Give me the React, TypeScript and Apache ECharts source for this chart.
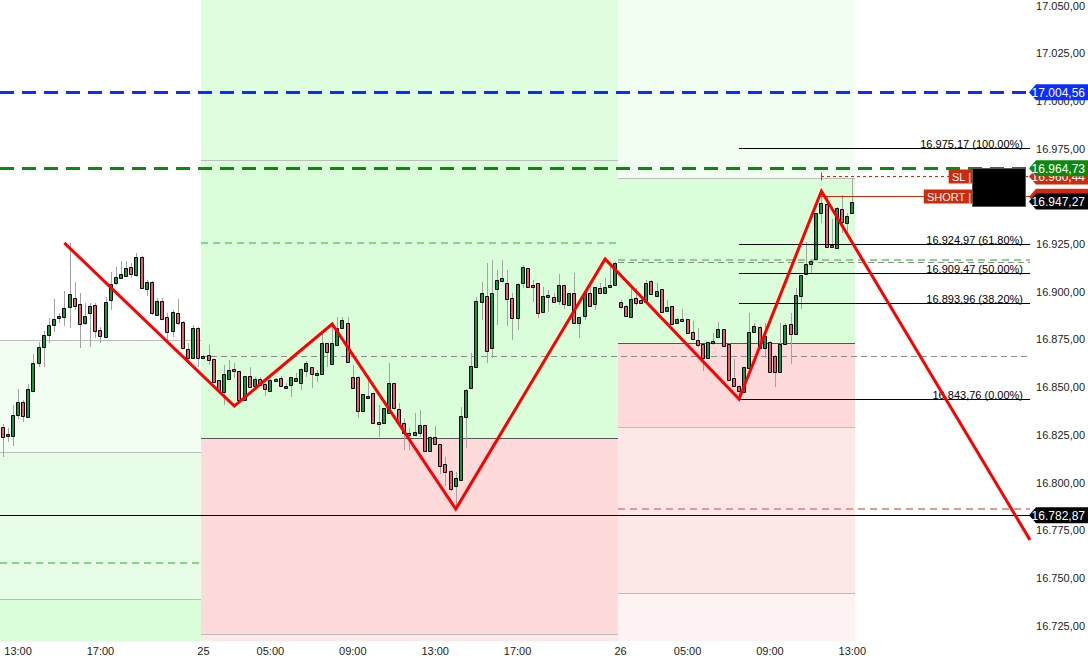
import React, { useEffect, useRef } from "react";
import * as echarts from "echarts";

// ---------- axis ranges / ticks ----------
const Y_MIN = 16716.94;
const Y_MAX = 17052.94;
const yTickValues = [16725, 16750, 16775, 16800, 16825, 16850, 16875, 16900, 16925, 16950, 16975, 17000, 17025, 17050];
const xTickTimes = ["05:00", "09:00", "13:00", "17:00"];

// trading sessions (15 minute bars)
const sessions = [
  { day: "24", open: "12:15", bars: 39, showDay: false },
  { day: "25", open: "01:45", bars: 81, showDay: true },
  { day: "26", open: "01:45", bars: 80, showDay: true },
];

// ---------- candles: [open, close, low, high] ----------
const day24Candles = [
  [16829.3, 16823.9, 16813.5, 16830.7], [16824.6, 16825.6, 16821.2, 16828.6], [16824.5, 16835.4, 16819.1, 16840.6],
  [16835.4, 16842.4, 16833.3, 16849.0], [16842.2, 16835.1, 16831.9, 16843.3], [16834.5, 16848.9, 16833.8, 16851.6],
  [16848.1, 16862.5, 16848.0, 16867.4], [16862.5, 16870.9, 16860.7, 16873.8], [16870.9, 16877.2, 16860.7, 16879.6],
  [16877.2, 16882.4, 16873.3, 16886.3], [16882.4, 16885.6, 16879.1, 16896.0], [16886.1, 16887.3, 16883.6, 16888.9],
  [16886.9, 16891.3, 16882.0, 16900.6], [16892.0, 16898.8, 16881.2, 16925.4], [16896.6, 16892.7, 16890.4, 16905.0],
  [16893.6, 16883.0, 16870.4, 16899.4], [16883.5, 16887.3, 16882.6, 16894.0], [16888.7, 16892.5, 16870.9, 16894.0],
  [16893.1, 16879.4, 16875.6, 16894.0], [16880.0, 16877.0, 16873.0, 16881.6], [16876.4, 16894.6, 16876.3, 16897.4],
  [16895.5, 16904.1, 16890.4, 16910.5], [16904.4, 16907.9, 16903.5, 16912.8], [16907.0, 16909.3, 16906.7, 16916.3],
  [16908.3, 16912.3, 16907.7, 16916.1], [16913.0, 16909.2, 16907.0, 16914.9], [16908.8, 16918.1, 16907.9, 16920.5],
  [16918.1, 16901.8, 16901.4, 16918.7], [16901.3, 16905.0, 16897.8, 16906.2], [16905.0, 16888.7, 16887.8, 16905.6],
  [16887.8, 16895.3, 16887.3, 16896.6], [16895.3, 16885.6, 16885.2, 16896.6], [16886.6, 16879.1, 16873.0, 16888.7],
  [16879.3, 16889.4, 16876.4, 16890.4], [16888.7, 16883.5, 16882.6, 16896.0], [16884.0, 16870.4, 16869.8, 16884.7],
  [16870.0, 16865.1, 16862.5, 16873.0], [16865.1, 16880.8, 16864.8, 16882.6], [16880.8, 16865.1, 16860.7, 16881.6],
];

const day25Candles = [
  [16865.6, 16866.5, 16865.3, 16866.8], [16866.8, 16864.2, 16861.6, 16872.1], [16864.8, 16852.9, 16852.7, 16865.0],
  [16853.7, 16848.5, 16846.8, 16854.0], [16847.6, 16856.9, 16840.6, 16861.6], [16854.3, 16859.0, 16853.7, 16864.2],
  [16859.4, 16859.0, 16854.6, 16862.5], [16858.5, 16843.3, 16843.0, 16858.7], [16843.5, 16855.9, 16843.3, 16856.1],
  [16855.9, 16849.9, 16849.6, 16860.7], [16850.6, 16854.1, 16850.3, 16855.2], [16854.1, 16851.0, 16850.6, 16855.5],
  [16851.6, 16848.9, 16845.4, 16852.0], [16848.1, 16853.7, 16848.0, 16854.3], [16853.6, 16854.1, 16853.2, 16854.8],
  [16854.6, 16850.6, 16850.2, 16855.8], [16849.4, 16850.6, 16849.0, 16852.0], [16851.0, 16855.2, 16845.0, 16855.5],
  [16853.4, 16854.6, 16853.2, 16857.6], [16852.0, 16859.5, 16848.5, 16859.9], [16858.3, 16862.5, 16855.2, 16863.9],
  [16860.6, 16856.7, 16849.4, 16860.7], [16856.2, 16857.2, 16852.9, 16859.0], [16856.7, 16873.0, 16856.4, 16878.2],
  [16873.0, 16868.6, 16860.7, 16873.1], [16862.0, 16873.0, 16861.6, 16883.5], [16871.9, 16881.2, 16871.6, 16886.6],
  [16881.2, 16885.2, 16881.0, 16886.6], [16883.8, 16863.3, 16863.2, 16886.6], [16855.5, 16849.6, 16849.3, 16861.6],
  [16855.5, 16837.5, 16833.7, 16855.9], [16837.5, 16846.2, 16837.2, 16846.4], [16844.7, 16845.5, 16844.3, 16856.4],
  [16846.8, 16831.0, 16830.7, 16847.0], [16831.6, 16830.5, 16824.0, 16840.6], [16831.0, 16838.9, 16830.9, 16839.1],
  [16836.6, 16852.0, 16836.4, 16862.8], [16852.0, 16839.2, 16838.0, 16852.2], [16838.4, 16831.4, 16831.2, 16841.5],
  [16831.0, 16825.8, 16817.1, 16833.7], [16826.1, 16824.8, 16817.1, 16828.4], [16824.8, 16826.5, 16824.4, 16836.3],
  [16825.8, 16830.2, 16824.0, 16838.0], [16830.2, 16816.7, 16816.5, 16830.4], [16816.7, 16823.7, 16816.5, 16824.6],
  [16823.7, 16820.0, 16819.7, 16829.8], [16820.0, 16808.7, 16804.5, 16820.2], [16809.5, 16805.7, 16798.2, 16813.5],
  [16806.0, 16796.8, 16795.7, 16806.6], [16798.3, 16802.2, 16786.0, 16805.7], [16801.3, 16834.9, 16800.8, 16839.7],
  [16834.5, 16848.5, 16818.3, 16849.0], [16849.4, 16861.1, 16849.0, 16867.7], [16860.7, 16895.2, 16860.6, 16897.4],
  [16894.8, 16899.5, 16885.2, 16905.1], [16897.8, 16869.1, 16862.5, 16914.9], [16870.7, 16899.2, 16865.4, 16916.6],
  [16901.3, 16906.2, 16882.6, 16911.4], [16905.8, 16907.0, 16905.4, 16916.6], [16904.4, 16896.0, 16882.0, 16911.4],
  [16896.6, 16886.4, 16874.7, 16899.2], [16886.1, 16903.9, 16880.0, 16904.4], [16904.4, 16913.1, 16901.8, 16914.0],
  [16912.6, 16902.6, 16902.1, 16912.6], [16903.5, 16903.0, 16894.8, 16906.2], [16904.8, 16888.7, 16886.1, 16904.8],
  [16889.2, 16897.9, 16888.9, 16902.6], [16897.8, 16898.3, 16889.6, 16900.9], [16897.4, 16894.8, 16894.1, 16899.2],
  [16895.3, 16903.5, 16893.1, 16909.3], [16903.5, 16893.4, 16890.8, 16903.8], [16893.1, 16899.2, 16892.8, 16899.4],
  [16899.2, 16883.8, 16883.6, 16909.7], [16883.5, 16886.6, 16875.9, 16886.9], [16887.3, 16899.2, 16885.2, 16899.4],
  [16899.2, 16892.7, 16892.5, 16904.8], [16893.6, 16902.3, 16890.4, 16902.5], [16901.8, 16899.2, 16898.8, 16904.8],
  [16899.5, 16902.3, 16899.1, 16907.0], [16903.0, 16903.5, 16902.5, 16913.5], [16903.5, 16915.2, 16903.0, 16915.6],
];

const day26Candles = [
  [16894.8, 16891.9, 16891.0, 16895.7], [16892.5, 16887.4, 16886.8, 16893.1], [16886.9, 16896.0, 16886.8, 16902.0],
  [16896.6, 16894.3, 16892.5, 16902.0], [16895.7, 16894.3, 16893.8, 16896.2], [16894.8, 16904.8, 16894.6, 16906.2],
  [16905.8, 16898.7, 16898.3, 16906.2], [16897.9, 16900.6, 16897.8, 16904.8], [16901.3, 16889.6, 16889.4, 16901.4],
  [16889.9, 16891.9, 16889.7, 16895.7], [16892.5, 16883.0, 16882.9, 16892.8], [16883.5, 16885.6, 16883.1, 16886.0],
  [16885.4, 16885.8, 16885.2, 16890.8], [16885.6, 16878.2, 16877.9, 16885.7], [16878.7, 16875.1, 16874.7, 16884.7],
  [16874.7, 16871.9, 16871.0, 16880.8], [16872.4, 16865.4, 16858.5, 16872.6], [16865.4, 16873.5, 16864.8, 16873.7],
  [16873.8, 16874.2, 16872.1, 16878.2], [16876.4, 16880.3, 16876.3, 16884.0], [16880.3, 16871.7, 16871.6, 16880.5],
  [16872.6, 16853.7, 16853.5, 16872.9], [16854.6, 16850.8, 16850.6, 16864.6], [16850.8, 16848.1, 16842.9, 16850.9],
  [16847.6, 16860.7, 16847.4, 16860.8], [16860.2, 16879.1, 16860.0, 16888.7], [16879.1, 16882.0, 16878.9, 16883.5],
  [16881.4, 16870.7, 16870.5, 16881.8], [16870.7, 16876.8, 16865.4, 16883.5], [16873.8, 16858.1, 16857.9, 16874.2],
  [16866.3, 16858.1, 16850.2, 16866.6], [16858.1, 16872.4, 16857.9, 16883.5], [16872.6, 16882.6, 16872.4, 16883.5],
  [16883.1, 16877.9, 16862.1, 16888.7], [16877.9, 16898.3, 16877.6, 16901.8], [16897.9, 16908.8, 16890.8, 16909.0],
  [16909.2, 16914.4, 16908.8, 16925.9], [16914.4, 16916.1, 16909.2, 16916.4], [16917.2, 16941.1, 16916.9, 16941.3],
  [16941.4, 16946.4, 16935.9, 16952.8], [16946.0, 16923.6, 16923.5, 16949.8], [16924.5, 16923.3, 16922.9, 16938.0],
  [16922.8, 16943.8, 16922.7, 16944.6], [16943.2, 16936.4, 16930.6, 16950.7], [16936.2, 16939.9, 16930.6, 16941.1],
  [16941.1, 16947.27, 16940.8, 16959.5],
];

// ---------- zigzag (bar index, price) ----------
const zigzagIndex = [12, 45, 64, 88, 117, 143, 159, 199];
const zigzagPrice = [16925.6, 16840.1, 16883.1, 16786.1, 16917.2, 16843.76, 16952.8, 16772.2];

// ---------- session zones (bar range, price range) ----------
const zoneBands = [
  { from: 0, to: 38, hi: 16874.7, lo: 16816.0, tone: "greenPale" },
  { from: 0, to: 38, hi: 16816.0, lo: 16738.95, tone: "greenLight" },
  { from: 0, to: 38, hi: 16738.95, lo: Y_MIN, tone: "green" },
  { from: 39, to: 119, hi: Y_MAX, lo: 16969.07, tone: "greenTop" },
  { from: 39, to: 119, hi: 16969.07, lo: 16823.34, tone: "green" },
  { from: 39, to: 119, hi: 16823.34, lo: 16720.6, tone: "pink" },
  { from: 39, to: 119, hi: 16720.6, lo: Y_MIN, tone: "pinkLight" },
  { from: 120, to: 165, hi: Y_MAX, lo: 16959.63, tone: "greenPale" },
  { from: 120, to: 165, hi: 16959.63, lo: 16873.14, tone: "green" },
  { from: 120, to: 165, hi: 16873.14, lo: 16829.11, tone: "pink" },
  { from: 120, to: 165, hi: 16829.11, lo: 16742.1, tone: "pinkLight" },
  { from: 120, to: 165, hi: 16742.1, lo: Y_MIN, tone: "pinkPale" },
];

// ---------- horizontal levels ----------
const levelLines = [
  { from: 0, to: 38, price: 16874.7, kind: "edge" },
  { from: 0, to: 38, price: 16816.0, kind: "edge" },
  { from: 0, to: 38, price: 16757.8, kind: "greenDash" },
  { from: 0, to: 38, price: 16738.95, kind: "edge" },
  { from: 39, to: 119, price: 16969.07, kind: "edge" },
  { from: 39, to: 119, price: 16925.6, kind: "greenDash" },
  { from: 39, to: -1, price: 16866.3, kind: "greyDash" },
  { from: 39, to: 119, price: 16823.34, kind: "mid" },
  { from: 39, to: 119, price: 16720.6, kind: "edge" },
  { from: 120, to: 165, price: 16959.63, kind: "edge" },
  { from: 120, to: -1, price: 16916.65, kind: "greenDash" },
  { from: 120, to: -1, price: 16915.4, kind: "greyDash" },
  { from: 120, to: 165, price: 16873.14, kind: "mid" },
  { from: 120, to: 165, price: 16829.11, kind: "edge" },
  { from: 120, to: 165, price: 16742.1, kind: "edge" },
  { from: 120, to: -1, price: 16786.1, kind: "redDash" },
  { from: 0, to: -1, price: 16782.87, kind: "black" },
  { from: 0, to: -1, price: 17004.56, kind: "blueDash" },
  { from: 0, to: -1, price: 16964.73, kind: "greenBold" },
];

// ---------- fibonacci retracement ----------
const fibStart = 143;
const fibPrices = [16975.17, 16924.97, 16909.47, 16893.96, 16843.76];
const fibRatios = ["100.00%", "61.80%", "50.00%", "38.20%", "0.00%"];

// ---------- trade ----------
const tradeLevels = [
  { name: "SL |", price: 16960.44, from: 159, kind: "sl" },
  { name: "SHORT |", price: 16949.8, from: 159, kind: "short" },
];

// ---------- price tags on the axis (showText false: tag is covered in the picture) ----------
const priceTags = [
  { price: 17004.56, tone: "blue", showText: true },
  { price: 16960.44, tone: "red", showText: true },
  { price: 16964.73, tone: "green", showText: true },
  { price: 16949.8, tone: "red", showText: false },
  { price: 16947.27, tone: "black", showText: true },
  { price: 16782.87, tone: "black", showText: true },
];

// ---------- styles ----------
const FONT = "'Liberation Sans', Arial, sans-serif";
const UP = "#109a36";
const DOWN = "#f0586a";
const WICK = "#a3a3a3";
const ZONE_COLORS: Record<string, string> = {
  green: "#dafdda",
  greenTop: "#dffddf",
  greenLight: "#e7fde7",
  greenPale: "#f1fef1",
  pink: "#fedada",
  pinkLight: "#fde8e8",
  pinkPale: "#fdf3f3",
};
const LINE_STYLES: Record<string, any> = {
  edge: { stroke: "#bdbdbd", lineWidth: 1 },
  mid: { stroke: "#555555", lineWidth: 1 },
  greenDash: { stroke: "#86d486", lineWidth: 2, lineDash: [7, 5] },
  greyDash: { stroke: "#8c8c8c", lineWidth: 1, lineDash: [6, 4] },
  redDash: { stroke: "#e09a9a", lineWidth: 2, lineDash: [7, 5] },
  black: { stroke: "#000000", lineWidth: 1 },
  blueDash: { stroke: "#0b2dff", lineWidth: 3, lineDash: [14, 8] },
  greenBold: { stroke: "#0b8a0b", lineWidth: 3, lineDash: [14, 8] },
};
const TAG_COLORS: Record<string, string> = {
  blue: "#0b2dff",
  green: "#0b8a0b",
  red: "#d02a0c",
  black: "#000000",
};

function fmtPrice(v: number) {
  const [i, d] = v.toFixed(2).split(".");
  return i.replace(/\B(?=(\d{3})+(?!\d))/g, ".") + "," + d;
}

function buildCategories(barsWithData: number) {
  const cats: string[] = [];
  const labels: string[] = [];
  sessions.forEach((s) => {
    const [h, m] = s.open.split(":").map(Number);
    for (let k = 0; k < s.bars; k++) {
      const t = h * 60 + m + 15 * k;
      const time = String(Math.floor(t / 60)).padStart(2, "0") + ":" + String(t % 60).padStart(2, "0");
      cats.push(s.day + " " + time);
      const idx = cats.length - 1;
      if (idx >= barsWithData) labels.push("");
      else if (k === 0 && s.showDay) labels.push(s.day);
      else if (xTickTimes.indexOf(time) >= 0) labels.push(time);
      else labels.push("");
    }
  });
  return { cats, labels };
}

const crisp = (v: number) => Math.round(v) + 0.5;

export default function App() {
  const ref = useRef<HTMLDivElement>(null);

  useEffect(() => {
    document.body.style.margin = "0";
    if (!ref.current) return;
    const chart = echarts.init(ref.current, undefined, { renderer: "svg" });
    const candles = [...day24Candles, ...day25Candles, ...day26Candles];
    const { cats, labels } = buildCategories(candles.length);

    const edgeX = (cs: any) => cs.x + cs.width;

    const renderZone = (params: any, api: any) => {
      const z = zoneBands[params.dataIndex];
      const band = api.size([1, 0])[0];
      const p0 = api.coord([z.from, z.hi]);
      const p1 = api.coord([z.to, z.lo]);
      const x0 = Math.round(p0[0] - band / 2);
      const x1 = Math.round(p1[0] + band / 2);
      const y0 = Math.round(p0[1]);
      const y1 = Math.round(p1[1]);
      return {
        type: "rect",
        shape: { x: x0, y: y0, width: x1 - x0, height: y1 - y0 },
        style: { fill: ZONE_COLORS[z.tone] },
      };
    };

    const renderLevel = (params: any, api: any) => {
      const l = levelLines[params.dataIndex];
      const cs = params.coordSys;
      const band = api.size([1, 0])[0];
      const st = LINE_STYLES[l.kind];
      const p = api.coord([l.from, l.price]);
      const x0 = l.from === 0 ? cs.x : Math.round(p[0] - band / 2);
      const x1 = l.to < 0 ? edgeX(cs) : Math.round(api.coord([l.to, l.price])[0] + band / 2);
      const y = st.lineWidth % 2 === 1 ? crisp(p[1] - 0.5) : Math.round(p[1]);
      return {
        type: "line",
        shape: { x1: x0, y1: y, x2: x1, y2: y },
        style: { ...st, fill: null },
      };
    };

    const renderCandle = (params: any, api: any) => {
      const i = api.value(0);
      const o = api.value(1);
      const c = api.value(2);
      const lo = api.value(3);
      const hi = api.value(4);
      const pO = api.coord([i, o]);
      const pC = api.coord([i, c]);
      const yH = api.coord([i, hi])[1];
      const yL = api.coord([i, lo])[1];
      const cx = Math.round(pO[0]);
      const top = Math.round(Math.min(pO[1], pC[1]));
      const bot = Math.round(Math.max(pO[1], pC[1]));
      const h = Math.max(bot - top, 2);
      const up = c >= o;
      return {
        type: "group",
        children: [
          {
            type: "line",
            shape: { x1: cx + 0.5, y1: Math.round(yH), x2: cx + 0.5, y2: Math.round(yL) },
            style: { stroke: WICK, lineWidth: 1 },
          },
          {
            type: "rect",
            shape: { x: cx - 1.5, y: top + 0.5, width: 3, height: h },
            style: { fill: up ? UP : DOWN, stroke: "#000", lineWidth: 1 },
          },
        ],
      };
    };

    const renderFib = (params: any, api: any) => {
      const k = params.dataIndex;
      const cs = params.coordSys;
      const p = api.coord([fibStart, fibPrices[k]]);
      const y = crisp(p[1] - 0.5);
      const ex = edgeX(cs);
      return {
        type: "group",
        children: [
          { type: "line", shape: { x1: Math.round(p[0]), y1: y, x2: ex, y2: y }, style: { stroke: "#000", lineWidth: 1 } },
          {
            type: "text",
            x: ex - 7,
            y: y + 1,
            style: {
              text: fmtPrice(fibPrices[k]) + " (" + fibRatios[k] + ")",
              fill: "#000",
              font: "11px " + FONT,
              align: "right",
              verticalAlign: "bottom",
            },
          },
        ],
      };
    };

    const renderTrade = (params: any, api: any) => {
      const t = tradeLevels[params.dataIndex];
      const cs = params.coordSys;
      const ex = edgeX(cs);
      const p = api.coord([t.from, t.price]);
      const y = crisp(p[1] - 0.5);
      const children: any[] = [
        {
          type: "line",
          shape: { x1: Math.round(p[0]), y1: y, x2: ex, y2: y },
          style: t.kind === "sl" ? { stroke: "#d02a0c", lineWidth: 1, lineDash: [3, 3] } : { stroke: "#d02a0c", lineWidth: 1 },
        },
      ];
      if (t.kind === "sl") {
        children.push({
          type: "line",
          shape: { x1: Math.round(p[0]) + 0.5, y1: y - 4, x2: Math.round(p[0]) + 0.5, y2: y + 4 },
          style: { stroke: "#d02a0c", lineWidth: 1 },
        });
      }
      children.push({
        type: "text",
        x: ex - 57,
        y: y,
        style: {
          text: t.name,
          fill: "#fff",
          font: "11px " + FONT,
          align: "right",
          verticalAlign: "middle",
          backgroundColor: "#d02a0c",
          padding: [2, 2, 1, 3],
        },
      });
      if (params.dataIndex === tradeLevels.length - 1) {
        const yTop = api.coord([t.from, tradeLevels[0].price])[1];
        children.push({
          type: "rect",
          shape: { x: ex - 57.5, y: Math.round(yTop) - 7.5, width: 53, height: Math.round(y - yTop) + 18 },
          style: { fill: "#000", stroke: "#555", lineWidth: 1 },
        });
      }
      return { type: "group", children };
    };

    const renderZigzag = (params: any, api: any) => {
      const cs = params.coordSys;
      const pts = zigzagIndex.map((ix, k) => api.coord([ix, zigzagPrice[k]]));
      const n = pts.length;
      const a = pts[n - 2];
      const b = pts[n - 1];
      const ex = edgeX(cs);
      const t = (ex - a[0]) / (b[0] - a[0]);
      pts[n - 1] = [ex, a[1] + t * (b[1] - a[1])];
      return {
        type: "polyline",
        shape: { points: pts },
        style: { stroke: "#ff0000", lineWidth: 3, fill: null, lineJoin: "miter" },
      };
    };

    const renderYLabel = (params: any, api: any) => {
      const v = yTickValues[params.dataIndex];
      const cs = params.coordSys;
      const y = api.coord([0, v])[1];
      return {
        type: "text",
        x: edgeX(cs) + 55,
        y: y,
        style: { text: fmtPrice(v), fill: "#222", font: "11px " + FONT, align: "right", verticalAlign: "middle" },
      };
    };

    const renderTag = (params: any, api: any) => {
      const t = priceTags[params.dataIndex];
      const cs = params.coordSys;
      const ex = edgeX(cs);
      const y = api.coord([0, t.price])[1];
      const color = TAG_COLORS[t.tone];
      const children: any[] = [
        {
          type: "polygon",
          shape: { points: [[ex - 1, y], [ex + 6, y - 8], [ex + 58, y - 8], [ex + 58, y + 8], [ex + 6, y + 8]] },
          style: { fill: color },
        },
      ];
      if (t.showText) {
        children.push({
          type: "text",
          x: ex + 55,
          y: y + 0.5,
          style: { text: fmtPrice(t.price), fill: "#fff", font: "12px " + FONT, align: "right", verticalAlign: "middle" },
        });
      }
      return { type: "group", children };
    };

    const option: any = {
      animation: false,
      grid: { left: 0, right: 58, top: 0, bottom: 17, containLabel: false },
      xAxis: {
        type: "category",
        data: cats,
        boundaryGap: true,
        axisLine: { show: false },
        axisTick: { show: false },
        splitLine: { show: false },
        axisLabel: {
          interval: (i: number) => labels[i] !== "",
          formatter: (_v: string, i: number) => labels[i],
          color: "#222",
          fontSize: 11,
          fontFamily: FONT,
          margin: 4,
        },
      },
      yAxis: {
        type: "value",
        position: "right",
        min: Y_MIN,
        max: Y_MAX,
        axisLabel: { show: false },
        axisLine: { show: false },
        axisTick: { show: false },
        splitLine: { show: false },
      },
      series: [
        { type: "custom", name: "zones", z: 1, silent: true, renderItem: renderZone, data: zoneBands.map((z) => [z.from, z.hi]) },
        { type: "custom", name: "levels", z: 2, silent: true, renderItem: renderLevel, data: levelLines.map((l) => [l.from, l.price]) },
        {
          type: "custom",
          name: "candles",
          z: 3,
          silent: true,
          renderItem: renderCandle,
          encode: { x: 0, y: [1, 2, 3, 4] },
          data: candles.map((c, i) => [i, c[0], c[1], c[2], c[3]]),
        },
        { type: "custom", name: "fib", z: 4, silent: true, renderItem: renderFib, data: fibPrices.map((p) => [fibStart, p]) },
        { type: "custom", name: "trade", z: 5, silent: true, renderItem: renderTrade, data: tradeLevels.map((t) => [t.from, t.price]) },
        { type: "custom", name: "zigzag", z: 6, silent: true, renderItem: renderZigzag, data: [[zigzagIndex[0], zigzagPrice[0]]] },
        { type: "custom", name: "yLabels", z: 7, silent: true, renderItem: renderYLabel, data: yTickValues.map((v) => [0, v]) },
        { type: "custom", name: "tags", z: 8, silent: true, renderItem: renderTag, data: priceTags.map((t) => [0, t.price]) },
      ],
    };
    chart.setOption(option);
    return () => chart.dispose();
  }, []);

  return <div ref={ref} style={{ position: "absolute", left: 0, top: 0, width: 1088, height: 658, background: "#fff" }} />;
}
